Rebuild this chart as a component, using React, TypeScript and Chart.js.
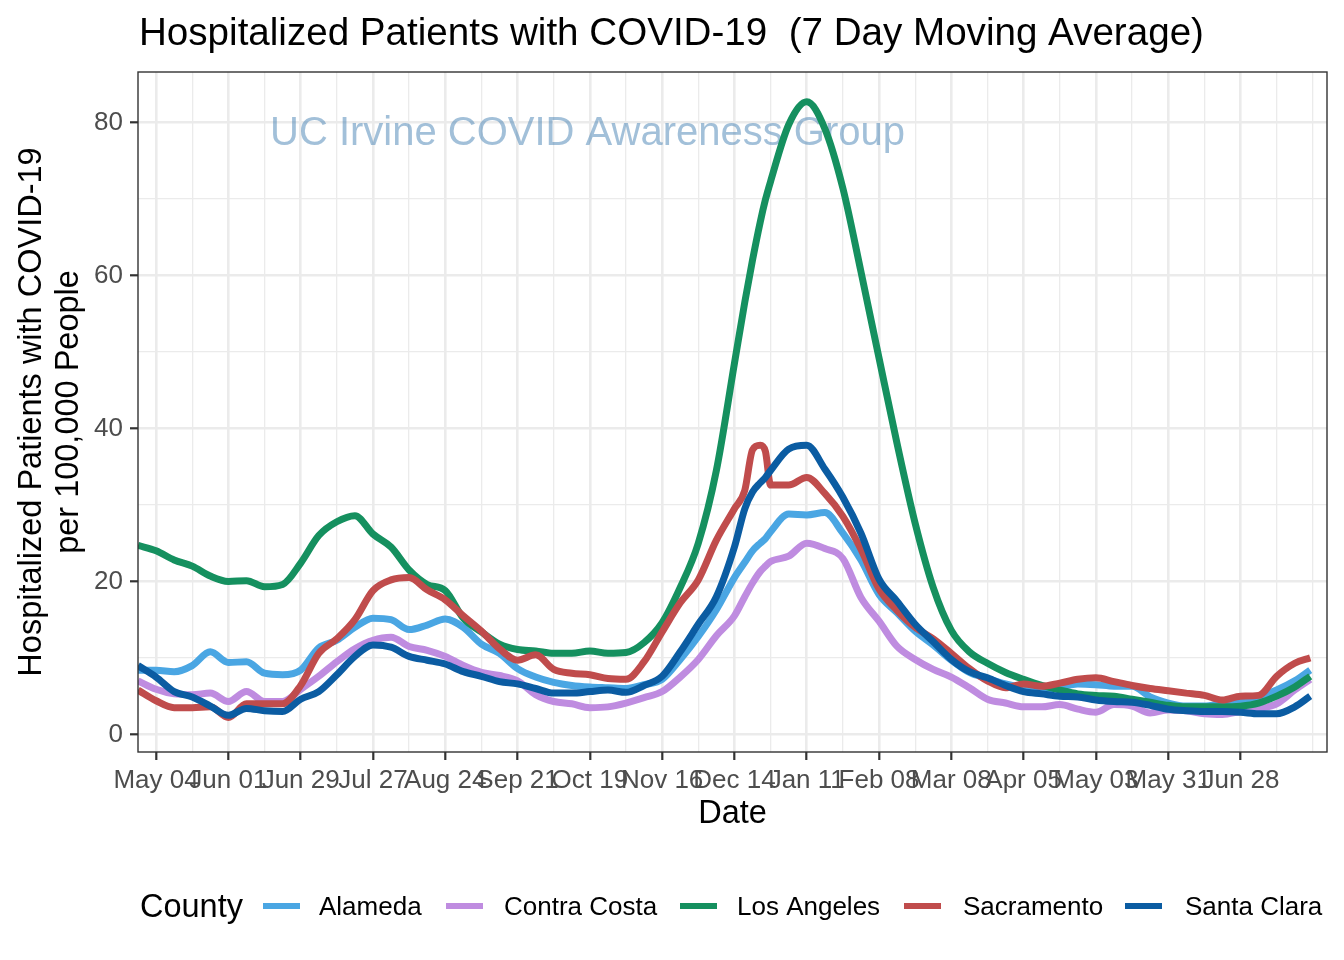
import React, { useEffect, useRef } from "react";
import { Chart, registerables } from "chart.js";

Chart.register(...registerables);

// Days since 2020-04-27
const DAYS = [
  0, 7, 14, 21, 28, 35, 42, 49, 56, 63,
  70, 77, 84, 91, 98, 105, 112, 119, 126, 133,
  140, 147, 154, 161, 168, 175, 182, 189, 196, 203,
  210, 217, 224, 231, 235, 238, 241, 243, 245, 252, 259, 266, 273,
  280, 287, 294, 301, 308, 315, 322, 329, 336, 343,
  350, 357, 364, 371, 378, 385, 392, 399, 406, 413,
  420, 427, 434, 441, 448, 454,
];

const ALAMEDA = [
  8.4, 8.4, 8.2, 9.0, 10.8, 9.4, 9.5, 8.0, 7.8, 8.4,
  11.3, 12.3, 14.0, 15.2, 15.0, 13.7, 14.3, 15.1, 14.0, 11.8,
  10.6, 8.6, 7.5, 6.8, 6.4, 6.2, 6.1, 6.0, 6.5, 7.2,
  9.8, 12.8, 16.3, 20.5, 22.5, 24.0, 25.0, 25.6, 26.5, 28.8, 28.7, 29.0, 26.3,
  22.8, 18.3, 15.9, 13.5, 11.7, 9.7, 8.1, 7.3, 6.6, 6.1,
  5.8, 6.2, 6.6, 6.5, 6.3, 6.3, 4.9, 4.1, 3.7, 3.7,
  4.1, 4.4, 4.9, 5.8, 7.0, 8.4,
];

const CONTRA_COSTA = [
  7.0, 5.9, 5.3, 5.2, 5.4, 4.3, 5.6, 4.3, 4.3, 5.9,
  7.6, 9.5, 11.2, 12.3, 12.7, 11.5, 11.0, 10.2, 9.0, 8.1,
  7.7, 7.0, 5.2, 4.3, 4.0, 3.5, 3.6, 4.1, 4.8, 5.6,
  7.5, 9.8, 12.9, 15.5, 18.0, 19.8, 21.3, 22.0, 22.6, 23.3, 25.0, 24.3, 23.0,
  17.9, 14.8, 11.5, 9.8, 8.5, 7.5, 6.1, 4.6, 4.1, 3.6,
  3.6, 3.9, 3.3, 2.9, 3.9, 3.7, 2.8, 3.2, 3.1, 2.7,
  2.6, 3.0, 3.4, 4.0, 5.8, 7.2,
];

const LOS_ANGELES = [
  24.7, 24.0, 22.8, 22.0, 20.7, 20.0, 20.1, 19.3, 19.6, 22.4,
  26.0, 27.8, 28.6, 26.2, 24.5, 21.5, 19.6, 18.8, 15.2, 13.4,
  11.8, 11.1, 10.9, 10.6, 10.6, 10.9, 10.6, 10.7, 12.0, 14.6,
  19.2, 25.0, 34.5, 48.5, 56.5, 62.0, 67.0, 69.9, 72.3, 79.7, 82.7, 79.2, 71.4,
  60.5, 49.2, 38.0, 27.6, 19.2, 13.6, 10.8, 9.3, 8.1, 7.2,
  6.4, 5.8, 5.3, 5.1, 5.0, 4.6, 4.2, 3.8, 3.6, 3.6,
  3.6, 3.7, 4.1, 5.0, 6.2, 7.6,
];

const SACRAMENTO = [
  5.8, 4.4, 3.5, 3.5, 3.6, 2.2, 4.0, 4.0, 4.0, 6.4,
  10.6, 12.5, 15.0, 18.8, 20.2, 20.5, 18.9, 17.6, 15.5, 13.5,
  11.2, 9.7, 10.4, 8.5, 8.0, 7.8, 7.3, 7.2, 9.5, 13.4,
  17.2, 20.2, 25.4, 29.5, 31.9, 37.2, 37.8, 37.0, 32.6, 32.6, 33.6, 31.5, 28.5,
  24.2, 19.0, 16.2, 14.0, 12.5, 10.6, 8.6, 7.0, 6.1, 6.6,
  6.3, 6.7, 7.2, 7.4, 6.9, 6.4, 6.0, 5.7, 5.4, 5.1,
  4.5, 5.0, 5.1, 7.6, 9.3, 10.0,
];

const SANTA_CLARA = [
  9.0, 7.5, 5.6, 4.9, 3.7, 2.5, 3.4, 3.1, 3.0, 4.6,
  5.6, 7.8, 10.2, 11.7, 11.4, 10.2, 9.7, 9.2, 8.2, 7.6,
  6.9, 6.6, 6.0, 5.4, 5.4, 5.6, 5.8, 5.5, 6.4, 7.6,
  10.8, 14.4, 18.0, 24.5, 29.5, 31.7, 32.9, 33.6, 34.5, 37.3, 37.8, 34.7, 31.0,
  26.3, 20.3, 17.4, 14.4, 12.1, 9.8, 8.2, 7.4, 6.4, 5.6,
  5.3, 5.0, 4.9, 4.5, 4.3, 4.2, 3.8, 3.3, 3.1, 3.0,
  3.0, 2.9, 2.7, 2.7, 3.6, 5.0,
];

const TICK_DAYS = [7, 35, 63, 91, 119, 147, 175, 203, 231, 259, 287, 315, 343, 371, 399, 427];
const TICK_LABELS = [
  "May 04", "Jun 01", "Jun 29", "Jul 27", "Aug 24", "Sep 21", "Oct 19", "Nov 16",
  "Dec 14", "Jan 11", "Feb 08", "Mar 08", "Apr 05", "May 03", "May 31", "Jun 28",
];
const X_MINOR_DAYS = [21, 49, 77, 105, 133, 161, 189, 217, 245, 273, 301, 329, 357, 385, 413, 441, 455];
const Y_MAJOR = [0, 20, 40, 60, 80];
const Y_MINOR = [10, 30, 50, 70];

const COUNTIES = ["Alameda", "Contra Costa", "Los Angeles", "Sacramento", "Santa Clara"];
const COLORS = ["#4AA6E3", "#BF8CE0", "#15905F", "#C04C4C", "#0B5CA2"];
const SERIES = [ALAMEDA, CONTRA_COSTA, LOS_ANGELES, SACRAMENTO, SANTA_CLARA];

const TITLE = "Hospitalized Patients with COVID-19  (7 Day Moving Average)";
const Y_TITLE_1 = "Hospitalized Patients with COVID-19";
const Y_TITLE_2 = "per 100,000 People";
const X_TITLE = "Date";
const LEGEND_TITLE = "County";
const WATERMARK = "UC Irvine COVID Awareness Group";

const FONT = '"Liberation Sans", Arial, Helvetica, sans-serif';

export default function App() {
  const ref = useRef<HTMLCanvasElement>(null);

  useEffect(() => {
    document.body.style.margin = "0";
    const canvas = ref.current;
    if (!canvas) return;

    const xTicks = [...TICK_DAYS, ...X_MINOR_DAYS].sort((a, b) => a - b);
    const yTicks = [...Y_MAJOR, ...Y_MINOR].sort((a, b) => a - b);
    const isMajorX = (v: number) => TICK_DAYS.indexOf(v) >= 0;
    const isMajorY = (v: number) => Y_MAJOR.indexOf(v) >= 0;

    const overlay = {
      id: "overlay",
      beforeDatasetsDraw(chart: any) {
        const ctx = chart.ctx;
        ctx.save();
        ctx.font = `40px ${FONT}`;
        ctx.fillStyle = "rgba(70,130,180,0.5)";
        ctx.textAlign = "left";
        ctx.textBaseline = "alphabetic";
        ctx.fillText(WATERMARK, 270, 145);
        ctx.restore();
      },
      afterDraw(chart: any) {
        const ctx = chart.ctx;
        const a = chart.chartArea;
        ctx.save();
        // panel border
        ctx.strokeStyle = "#333333";
        ctx.lineWidth = 1.4;
        ctx.strokeRect(a.left, a.top, a.right - a.left, a.bottom - a.top);

        // title
        ctx.fillStyle = "#000000";
        ctx.textBaseline = "alphabetic";
        ctx.textAlign = "left";
        ctx.font = `38.6px ${FONT}`;
        ctx.fillText(TITLE, 139, 45);

        // x title
        ctx.font = `32.5px ${FONT}`;
        ctx.textAlign = "center";
        ctx.fillText(X_TITLE, (a.left + a.right) / 2, 823);

        // y title
        const cy = (a.top + a.bottom) / 2;
        ctx.save();
        ctx.translate(41, cy);
        ctx.rotate(-Math.PI / 2);
        ctx.fillText(Y_TITLE_1, 0, 0);
        ctx.fillText(Y_TITLE_2, 0, 37);
        ctx.restore();

        // legend
        ctx.textAlign = "left";
        ctx.font = `32.5px ${FONT}`;
        ctx.fillText(LEGEND_TITLE, 140, 917);
        const keyX = [263, 446, 680, 904, 1125];
        const labX = [319, 504, 737, 963, 1185];
        ctx.font = `26px ${FONT}`;
        COUNTIES.forEach((name, i) => {
          ctx.strokeStyle = COLORS[i];
          ctx.lineWidth = 6;
          ctx.lineCap = "butt";
          ctx.beginPath();
          ctx.moveTo(keyX[i], 906);
          ctx.lineTo(keyX[i] + 37, 906);
          ctx.stroke();
          ctx.fillStyle = "#000000";
          ctx.fillText(name, labX[i], 915);
        });
        ctx.restore();
      },
    };

    const chart = new Chart(canvas, {
      type: "line",
      data: {
        datasets: SERIES.map((vals, i) => ({
          label: COUNTIES[i],
          data: DAYS.map((d, j) => ({ x: d, y: vals[j] })),
          borderColor: COLORS[i],
          backgroundColor: COLORS[i],
          borderWidth: 7,
          pointRadius: 0,
          pointHoverRadius: 0,
          fill: false,
          cubicInterpolationMode: "monotone",
          borderJoinStyle: "round",
          order: SERIES.length - i,
        })),
      },
      options: {
        animation: false,
        responsive: false,
        devicePixelRatio: 1,
        events: [],
        layout: { padding: { left: 0, top: 72, right: 17, bottom: 158 } },
        plugins: {
          legend: { display: false },
          tooltip: { enabled: false },
          title: { display: false },
        },
        scales: {
          x: {
            type: "linear",
            min: 0,
            max: 460.5,
            afterBuildTicks: (s: any) => {
              s.ticks = xTicks.map((v) => ({ value: v }));
            },
            afterFit: (s: any) => {
              s.height = 50;
            },
            ticks: {
              autoSkip: false,
              maxRotation: 0,
              minRotation: 0,
              padding: 5,
              color: "#4D4D4D",
              font: { family: FONT, size: 26 },
              callback: (v: any) => {
                const k = TICK_DAYS.indexOf(Number(v));
                return k >= 0 ? TICK_LABELS[k] : "";
              },
            },
            grid: {
              color: "#EBEBEB",
              lineWidth: (c: any) => (c.tick && isMajorX(c.tick.value) ? 2.6 : 1.3),
              tickLength: 8,
              tickColor: (c: any) => (c.tick && isMajorX(c.tick.value) ? "#333333" : "rgba(0,0,0,0)"),
              tickWidth: 2.2,
            },
            border: { display: false },
          },
          y: {
            type: "linear",
            min: -2.3,
            max: 86.6,
            afterBuildTicks: (s: any) => {
              s.ticks = yTicks.map((v) => ({ value: v }));
            },
            afterFit: (s: any) => {
              s.width = 138;
            },
            ticks: {
              autoSkip: false,
              padding: 7,
              color: "#4D4D4D",
              font: { family: FONT, size: 26 },
              callback: (v: any) => (isMajorY(Number(v)) ? String(v) : ""),
            },
            grid: {
              color: "#EBEBEB",
              lineWidth: (c: any) => (c.tick && isMajorY(c.tick.value) ? 2.6 : 1.3),
              tickLength: 8,
              tickColor: (c: any) => (c.tick && isMajorY(c.tick.value) ? "#333333" : "rgba(0,0,0,0)"),
              tickWidth: 2.2,
            },
            border: { display: false },
          },
        },
      },
      plugins: [overlay],
    } as any);

    return () => chart.destroy();
  }, []);

  return (
    <div style={{ width: 1344, height: 960, background: "#ffffff" }}>
      <canvas ref={ref} width={1344} height={960} style={{ display: "block" }} />
    </div>
  );
}
